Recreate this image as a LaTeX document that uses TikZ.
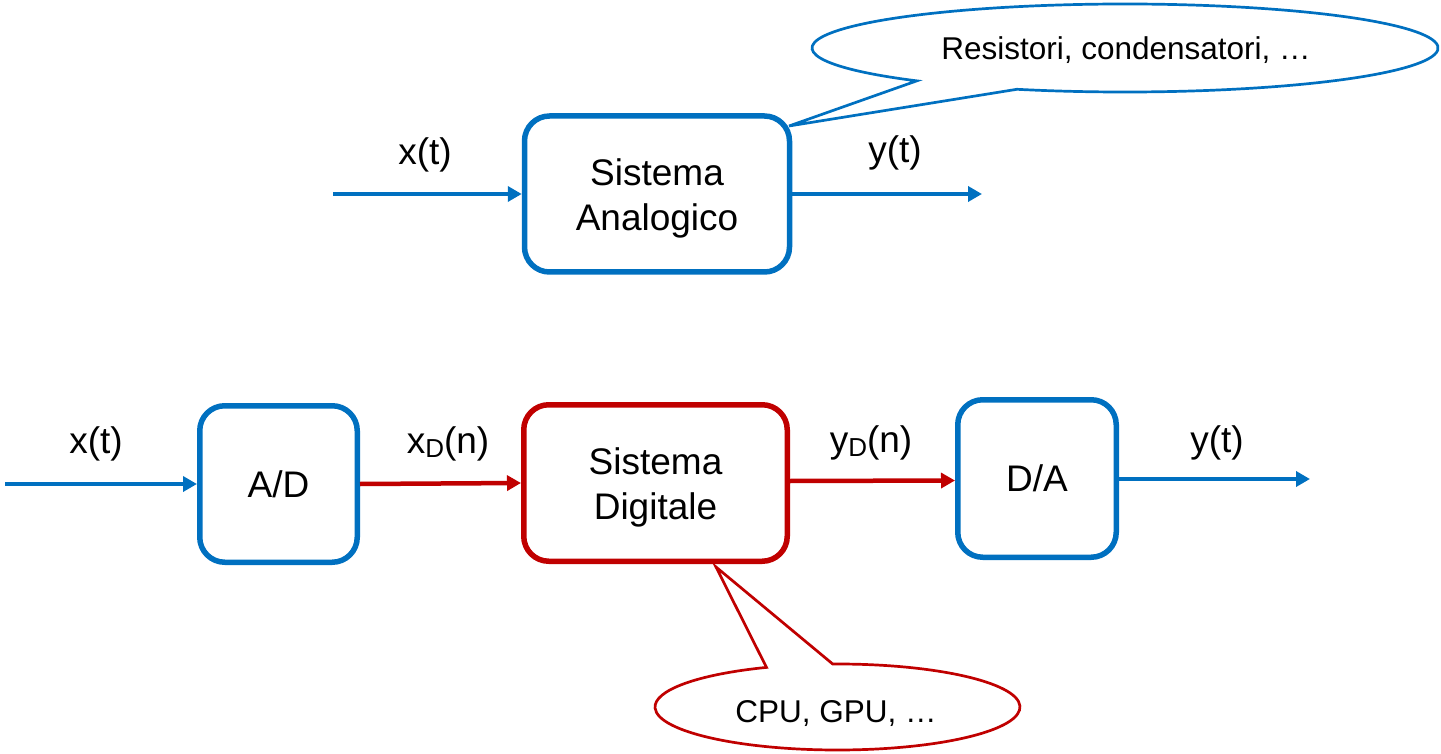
\documentclass[tikz,border=0pt]{standalone}
\usepackage{fontspec}
\setmainfont{Liberation Sans}
\usetikzlibrary{arrows.meta,calc}
\definecolor{myblue}{HTML}{0070C0}
\definecolor{myred}{HTML}{C00000}
\newcommand\mainfs{\fontsize{37}{45}\selectfont}
\newcommand\callfs{\fontsize{31.5}{38}\selectfont}
\newcommand\subD{\raisebox{-4pt}{\fontsize{26}{26}\selectfont D}}
\newcommand\upstrut{\rule{0pt}{35pt}}
\begin{document}
\begin{tikzpicture}[x=1pt,y=-1pt,
  box/.style={draw, line width=5.5pt, rounded corners=25pt, align=center, font=\mainfs, inner sep=0pt, text=black},
  arr/.style={line width=4pt, -{Triangle[length=14pt,width=15pt]}},
  lab/.style={anchor=base, font=\mainfs, inner sep=0pt},
  callout/.style={line width=2.7pt, fill=white},
  calltext/.style={anchor=base, font=\callfs, inner sep=0pt}]
\useasboundingbox (0,0) rectangle (1441,754);

% ---------- analog system ----------
\node[box, draw=myblue, minimum width=265pt, minimum height=156pt] (tb) at (657,194) {\upstrut Sistema\\Analogico};
\coordinate (tin) at (333,194);
\coordinate (tout) at (982,194);
\draw[arr, myblue] (tin) -- (tb.west);
\draw[arr, myblue] (tb.east) -- (tout);
\node[lab] (tx) at (425,165) {x(t)};
\node[lab] (ty) at (895,163) {y(t)};

% callout (top)
\coordinate (c1) at (1125,48);
\coordinate (tip1) at (789,126);
\draw[callout, draw=myblue] ($(c1)+(131.7:313 and 44)$) -- (tip1) -- ($(c1)+(110.2:313 and 44)$)
  arc[start angle=110.2, end angle=-228.3, x radius=313, y radius=44] -- cycle;
\node[calltext] (t1) at (1126,60) {Resistori, condensatori, …};

% ---------- digital chain ----------
\node[box, draw=myblue, minimum width=157.5pt, minimum height=156.5pt] (ad) at (278.5,484) {A/D};
\node[box, draw=myred, minimum width=263.5pt, minimum height=156.5pt] (dig) at (655.5,483) {\upstrut Sistema\\Digitale};
\node[box, draw=myblue, minimum width=158.5pt, minimum height=157.5pt] (da) at (1037,478.5) {D/A};
\coordinate (bin) at (5,484);
\coordinate (bout) at (1310,479);
\draw[arr, myblue] (bin) -- (ad.west);
\draw[arr, myred, line width=4.5pt] (ad.east) -- (dig.west);
\draw[arr, myred, line width=4.5pt] ([yshift=2pt]dig.east) -- ([yshift=-2pt]da.west);
\draw[arr, myblue] ([yshift=-0.5pt]da.east) -- (bout);
\node[lab] (bx) at (96,453) {x(t)};
\node[lab] (bxd) at (448,453) {x\subD(n)};
\node[lab] (byd) at (871,452) {y\subD(n)};
\node[lab] (by) at (1217,452) {y(t)};

% callout (bottom)
\coordinate (c2) at (837.5,707);
\coordinate (tip2) at (716,567);
\draw[callout, draw=myred] ($(c2)+(247.1:182.5 and 43)$) -- (tip2) -- ($(c2)+(268.5:182.5 and 43)$)
  arc[start angle=268.5, end angle=607.1, x radius=182.5, y radius=43] -- cycle;
\node[calltext] (t2) at (836,722) {CPU, GPU, …};
\end{tikzpicture}
\end{document}
